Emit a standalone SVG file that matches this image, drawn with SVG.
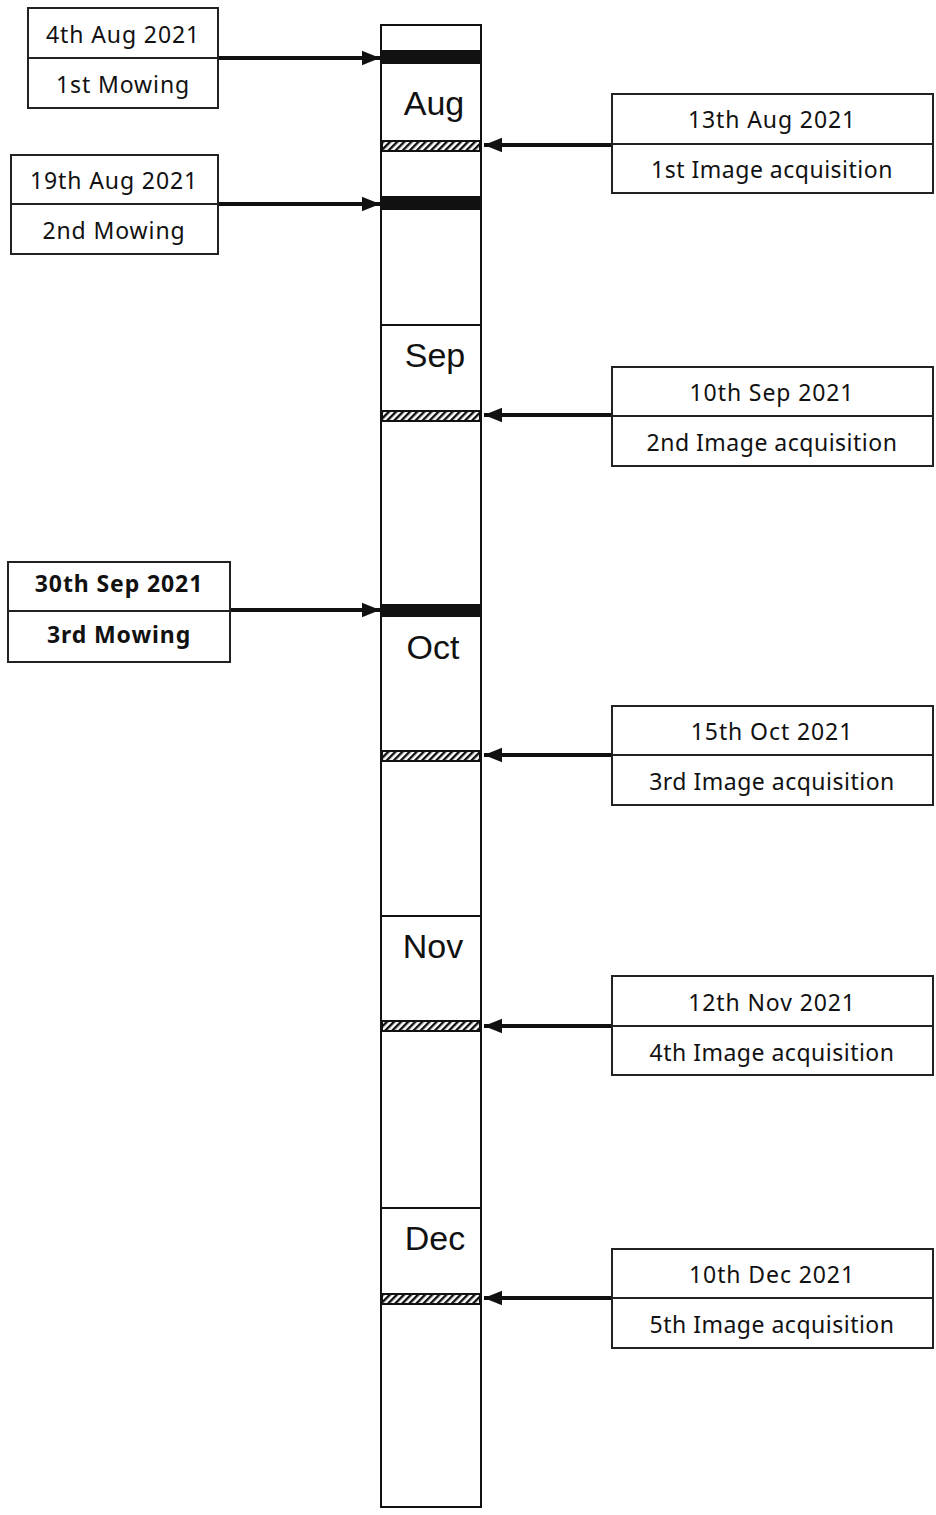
<svg xmlns="http://www.w3.org/2000/svg" width="936" height="1515" viewBox="0 0 936 1515">
<style>
.box{fill:#fff;stroke:#222;stroke-width:2}
.t{font-family:"Noto Sans","Noto Sans CJK KR",sans-serif;font-size:23px;fill:#111;text-anchor:middle;letter-spacing:0.9px}
.s{letter-spacing:0.5px}
.b{font-weight:bold}
.m{font-family:"Liberation Sans",Arial,sans-serif;font-size:34px;fill:#111;text-anchor:middle}
.arr{stroke:#111;stroke-width:4;fill:none}
.hatch{fill:url(#hp);stroke:#111;stroke-width:2}
</style>
<defs>
<pattern id="hp" width="5" height="5" patternUnits="userSpaceOnUse" patternTransform="rotate(45)">
<rect width="5" height="5" fill="#fff"/>
<rect width="2.4" height="5" fill="#111"/>
</pattern>
<marker id="ah" markerWidth="5" markerHeight="5" refX="4.5" refY="2.5" orient="auto" markerUnits="strokeWidth">
<path d="M0,0.7 L4.5,2.5 L0,4.3 Z" fill="#111"/>
</marker>
</defs>

<g id="timeline">
<rect x="381" y="25" width="100" height="1482" fill="#fff" stroke="#111" stroke-width="2"/>
<line x1="381" y1="325" x2="481" y2="325" stroke="#111" stroke-width="2"/>
<line x1="381" y1="916" x2="481" y2="916" stroke="#111" stroke-width="2"/>
<line x1="381" y1="1208" x2="481" y2="1208" stroke="#111" stroke-width="2"/>
<rect x="381" y="50" width="100" height="14" fill="#111"/>
<rect x="381" y="196" width="100" height="14" fill="#111"/>
<rect x="381" y="604" width="100" height="13" fill="#111"/>
<rect class="hatch" x="382" y="141" width="98" height="10"/>
<rect class="hatch" x="382" y="411" width="98" height="10"/>
<rect class="hatch" x="382" y="751" width="98" height="10"/>
<rect class="hatch" x="382" y="1021" width="98" height="10"/>
<rect class="hatch" x="382" y="1294" width="98" height="10"/>
<text class="m" x="434" y="115">Aug</text>
<text class="m" x="435" y="367">Sep</text>
<text class="m" x="433" y="659">Oct</text>
<text class="m" x="433" y="958">Nov</text>
<text class="m" x="435" y="1250">Dec</text>
</g>

<g id="connectors">
<line class="arr" x1="218" y1="58" x2="380" y2="58" marker-end="url(#ah)"/>
<line class="arr" x1="218" y1="204" x2="380" y2="204" marker-end="url(#ah)"/>
<line class="arr" x1="230" y1="610" x2="380" y2="610" marker-end="url(#ah)"/>
<line class="arr" x1="612" y1="145" x2="484" y2="145" marker-end="url(#ah)"/>
<line class="arr" x1="612" y1="415" x2="484" y2="415" marker-end="url(#ah)"/>
<line class="arr" x1="612" y1="755" x2="484" y2="755" marker-end="url(#ah)"/>
<line class="arr" x1="612" y1="1026" x2="484" y2="1026" marker-end="url(#ah)"/>
<line class="arr" x1="612" y1="1298" x2="484" y2="1298" marker-end="url(#ah)"/>
</g>

<g id="mow1">
<rect class="box" x="28" y="8" width="190" height="100"/>
<line x1="28" y1="58" x2="218" y2="58" stroke="#222" stroke-width="2"/>
<text class="t" x="123" y="43">4th Aug 2021</text>
<text class="t" x="123" y="93">1st Mowing</text>
</g>
<g id="mow2">
<rect class="box" x="11" y="155" width="207" height="99"/>
<line x1="11" y1="204" x2="218" y2="204" stroke="#222" stroke-width="2"/>
<text class="t" x="114" y="189">19th Aug 2021</text>
<text class="t" x="114" y="239">2nd Mowing</text>
</g>
<g id="mow3">
<rect class="box" x="8" y="562" width="222" height="100"/>
<line x1="8" y1="611" x2="230" y2="611" stroke="#222" stroke-width="2"/>
<text class="t b" x="119" y="592">30th Sep 2021</text>
<text class="t b" x="119" y="643">3rd Mowing</text>
</g>

<g id="img1">
<rect class="box" x="612" y="94" width="321" height="99"/>
<line x1="612" y1="144" x2="933" y2="144" stroke="#222" stroke-width="2"/>
<text class="t" x="772" y="128">13th Aug 2021</text>
<text class="t s" x="772" y="178">1st Image acquisition</text>
</g>
<g id="img2">
<rect class="box" x="612" y="367" width="321" height="99"/>
<line x1="612" y1="416" x2="933" y2="416" stroke="#222" stroke-width="2"/>
<text class="t" x="772" y="401">10th Sep 2021</text>
<text class="t s" x="772" y="451">2nd Image acquisition</text>
</g>
<g id="img3">
<rect class="box" x="612" y="706" width="321" height="99"/>
<line x1="612" y1="755" x2="933" y2="755" stroke="#222" stroke-width="2"/>
<text class="t" x="772" y="740">15th Oct 2021</text>
<text class="t s" x="772" y="790">3rd Image acquisition</text>
</g>
<g id="img4">
<rect class="box" x="612" y="976" width="321" height="99"/>
<line x1="612" y1="1026" x2="933" y2="1026" stroke="#222" stroke-width="2"/>
<text class="t" x="772" y="1011">12th Nov 2021</text>
<text class="t s" x="772" y="1061">4th Image acquisition</text>
</g>
<g id="img5">
<rect class="box" x="612" y="1249" width="321" height="99"/>
<line x1="612" y1="1298" x2="933" y2="1298" stroke="#222" stroke-width="2"/>
<text class="t" x="772" y="1283">10th Dec 2021</text>
<text class="t s" x="772" y="1333">5th Image acquisition</text>
</g>
</svg>
